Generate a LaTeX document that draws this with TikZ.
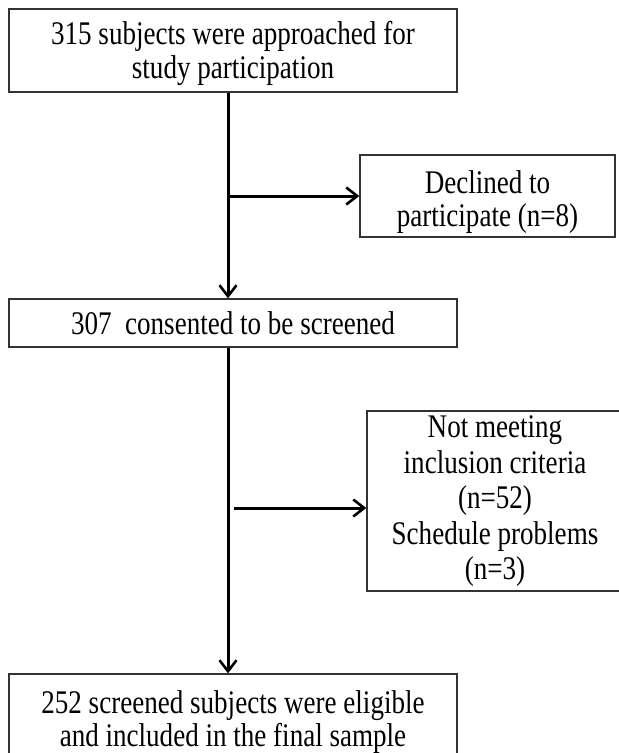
\documentclass[tikz,border=0pt]{standalone}
\usepackage{fontspec}
\setmainfont{Liberation Serif}[FakeStretch=0.82]
\usetikzlibrary{arrows.meta}
\begin{document}
\begin{tikzpicture}[x=1pt,y=-1pt,
  box/.style={draw=black!80,line width=1.3pt,inner sep=0pt},
  txt/.style={align=center,inner sep=0pt,font=\fontsize{33}{33.5}\selectfont},
  arr/.style={line width=3pt,-{Straight Barb[length=11pt,width=17pt,line width=2.6pt]}}]
\clip (0,0) rectangle (619,753);
\fill[white] (0,0) rectangle (619,753);
\node[box,minimum width=448pt,minimum height=83pt] (b1) at (233,50.5) {};
\node[txt] (t1) at (233,53.5) {315 subjects were approached for\\study participation};
\node[box,minimum width=448pt,minimum height=48pt] (b2) at (233,323) {};
\node[txt] (t2) at (233,323) {307\ \ consented to be screened};
\node[box,minimum width=255pt,minimum height=82pt] (dec) at (487.5,196) {};
\node[txt] (t3) at (487.5,202) {Declined to\\participate (n=8)};
\node[box,minimum width=256pt,minimum height=180pt] (b3) at (495,501) {};
\node[txt,font=\fontsize{33}{35.5}\selectfont] (t4) at (495,501.5) {Not meeting\\inclusion criteria\\(n=52)\\Schedule problems\\(n=3)};
\node[box,minimum width=448pt,minimum height=92pt] (b4) at (233,720) {};
\node[txt] (t5) at (233,722) {252 screened subjects were eligible\\and included in the final sample};
\coordinate (v1) at (228,0);
\coordinate (c1) at (228,196);
\coordinate (c2) at (234,508);
\draw[arr] (b1.south -| v1) -- (b2.north -| v1);
\draw[arr] (c1) -- (c1 -| dec.west);
\draw[arr] (b2.south -| v1) -- (b4.north -| v1);
\draw[arr] (c2) -- (c2 -| b3.west);
\end{tikzpicture}
\end{document}
